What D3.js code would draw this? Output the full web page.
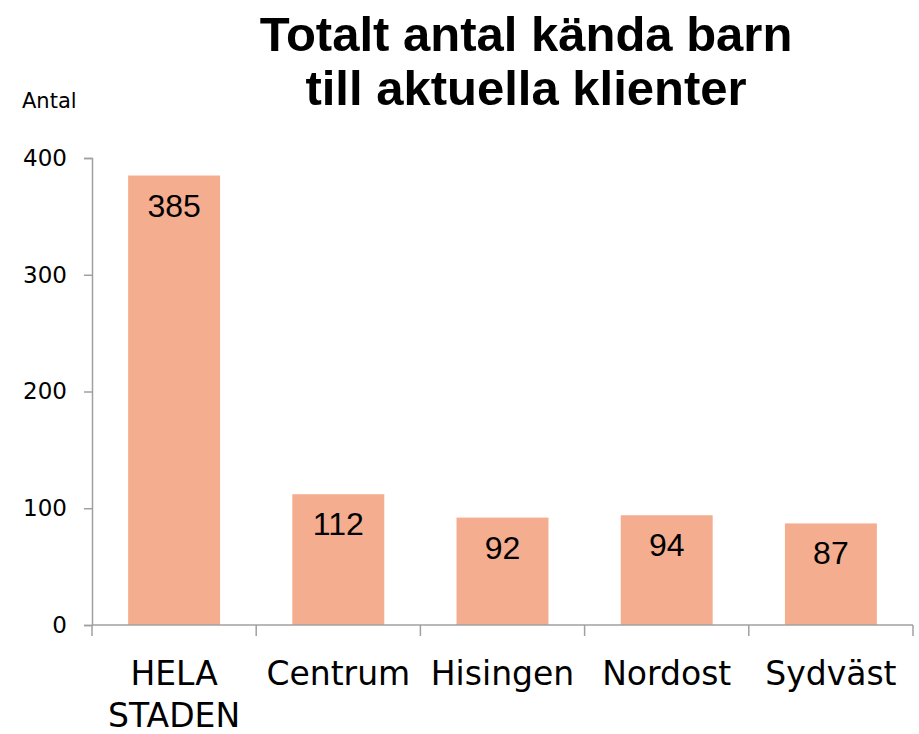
<!DOCTYPE html>
<html><head><meta charset="utf-8">
<script src="https://cdnjs.cloudflare.com/ajax/libs/d3/7.8.5/d3.min.js"></script>
<style>body{margin:0;background:#fff}svg{display:block;font-family:"Liberation Sans",Arial,sans-serif}</style>
</head><body><svg id="c" width="919" height="734"></svg>
<script>
const categories = [["HELA","STADEN"],["Centrum"],["Hisingen"],["Nordost"],["Sydväst"]];
const values = [385, 112, 92, 94, 87];
const yTicks = [0, 100, 200, 300, 400];
const titleLines = ["Totalt antal kända barn", "till aktuella klienter"];
const yLabel = "Antal";

const svg = d3.select("#c");
const m = {left: 92, right: 6, top: 158, bottom: 109};
const W = 919, H = 734;
const dv = "DejaVu Sans, sans-serif";
const x = d3.scaleBand().domain(d3.range(categories.length)).range([m.left, W - m.right]).paddingInner(0.44).paddingOuter(0.22);
const y = d3.scaleLinear().domain([0, 400]).range([H - m.bottom, m.top]);
const axisColor = "#a0a0a0";

// title
svg.append("g").selectAll("text").data(titleLines).join("text")
  .attr("x", 526).attr("y", (d, i) => 51 + i * 54)
  .attr("text-anchor", "middle").attr("font-size", 49).attr("font-weight", "bold").attr("fill", "#000")
  .text(d => d);

svg.append("text").attr("x", 22).attr("y", 108).attr("font-size", 21).attr("font-family", dv).attr("fill", "#000").text(yLabel);

// bars
svg.append("g").selectAll("rect").data(values).join("rect")
  .attr("x", (d, i) => x(i)).attr("width", x.bandwidth())
  .attr("y", d => y(d)).attr("height", d => y(0) - y(d))
  .attr("fill", "#F5AD8F");

svg.append("g").selectAll("text").data(values).join("text")
  .attr("x", (d, i) => x(i) + x.bandwidth() / 2).attr("y", d => y(d) + 41)
  .attr("text-anchor", "middle").attr("font-size", 32).attr("fill", "#000")
  .text(d => d);

// y axis
const ya = svg.append("g").attr("transform", `translate(${m.left},0)`)
  .call(d3.axisLeft(y).tickValues(yTicks).tickSize(8).tickPadding(17));
ya.select(".domain").attr("stroke", axisColor).attr("stroke-width", 1.5);
ya.selectAll(".tick line").attr("stroke", axisColor).attr("stroke-width", 1.5);
ya.selectAll(".tick text").attr("font-size", 23).attr("fill", "#000").attr("font-family", dv);

// x axis line + boundary ticks
const bounds = d3.range(categories.length + 1).map(i => m.left + i * (W - m.right - m.left) / categories.length);
const xa = svg.append("g");
xa.append("line").attr("x1", m.left).attr("x2", W - m.right).attr("y1", y(0)).attr("y2", y(0)).attr("stroke", axisColor).attr("stroke-width", 1.5);
xa.selectAll("line.t").data(bounds).join("line").attr("class", "t")
  .attr("x1", d => d).attr("x2", d => d).attr("y1", y(0)).attr("y2", y(0) + 11)
  .attr("stroke", axisColor).attr("stroke-width", 1.5);

const cl = svg.append("g").selectAll("text").data(categories).join("text")
  .attr("text-anchor", "middle").attr("font-size", 33).attr("font-family", dv).attr("fill", "#000")
  .attr("x", (d, i) => x(i) + x.bandwidth() / 2).attr("y", 685);
cl.each(function(d, i) {
  d3.select(this).selectAll("tspan").data(d).join("tspan")
    .attr("x", x(i) + x.bandwidth() / 2).attr("dy", (t, j) => j === 0 ? 0 : 42).text(t => t);
});
</script></body></html>
